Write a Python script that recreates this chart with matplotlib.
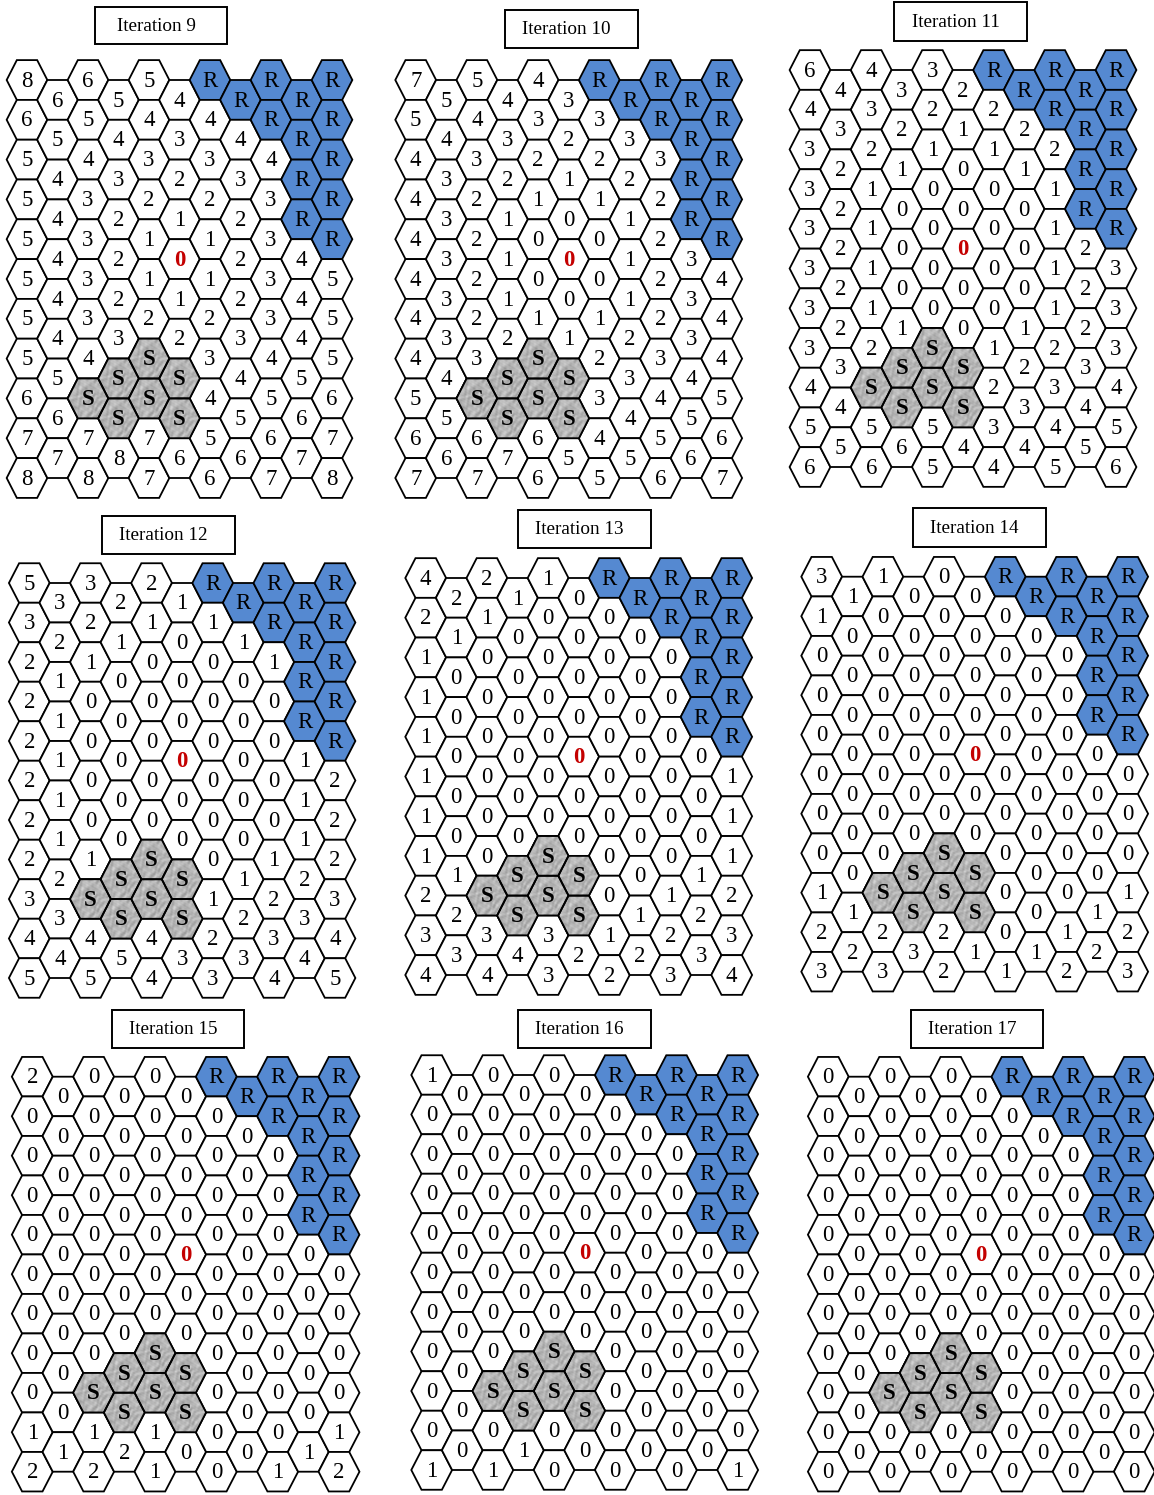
import numpy as np
import matplotlib
matplotlib.use("Agg")
import matplotlib.pyplot as plt
from matplotlib.patches import Polygon, Rectangle

plt.rcParams["font.family"] = ["Liberation Serif", "DejaVu Serif"]

W, H, DPI = 1154, 1495, 100

# Hex grids: 11 columns from left to right, each written top to bottom.
# Even columns hold 11 cells, odd columns 10 cells (shifted half a row down).
# "R" = blue R cell, "S" = grey S cell, digits = cell value.
iteration_labels = ["Iteration 9", "Iteration 10", "Iteration 11",
                    "Iteration 12", "Iteration 13", "Iteration 14",
                    "Iteration 15", "Iteration 16", "Iteration 17"]

grid_9 = ["86555555678", "6544444567", "65433334S78", "5432223SS8",
          "5432112SS77", "4321012SS6", "R4321123456", "R432223456",
          "RR433334567", "RRRR444567", "RRRRR555678"]
grid_10 = ["75444444567", "5433333456", "54322223S67", "4321112SS7",
           "4321001SS66", "3210001SS5", "R3210012345", "R321112345",
           "RR322223456", "RRRR333456", "RRRRR444567"]
grid_11 = ["64333333456", "4322222345", "43211112S56", "3210001SS6",
           "3210000SS55", "2100000SS4", "R2100001234", "R210001234",
           "RR211112345", "RRRR222345", "RRRRR333456"]
grid_12 = ["53222222345", "3211111234", "32100001S45", "2100000SS5",
           "2100000SS44", "1000000SS3", "R1000000123", "R100000123",
           "RR100001234", "RRRR111234", "RRRRR222345"]
grid_13 = ["42111111234", "2100000123", "21000000S34", "1000000SS4",
           "1000000SS33", "0000000SS2", "R0000000012", "R000000012",
           "RR000000123", "RRRR000123", "RRRRR111234"]
grid_14 = ["31000000123", "1000000012", "10000000S23", "0000000SS3",
           "0000000SS22", "0000000SS1", "R0000000001", "R000000001",
           "RR000000012", "RRRR000012", "RRRRR000123"]
grid_15 = ["20000000012", "0000000001", "00000000S12", "0000000SS2",
           "0000000SS11", "0000000SS0", "R0000000000", "R000000000",
           "RR000000001", "RRRR000001", "RRRRR000012"]
grid_16 = ["10000000001", "0000000000", "00000000S01", "0000000SS1",
           "0000000SS00", "0000000SS0", "R0000000000", "R000000000",
           "RR000000000", "RRRR000000", "RRRRR000001"]
grid_17 = ["00000000000", "0000000000", "00000000S00", "0000000SS0",
           "0000000SS00", "0000000SS0", "R0000000000", "R000000000",
           "RR000000000", "RRRR000000", "RRRRR000000"]

grids = [grid_9, grid_10, grid_11, grid_12, grid_13, grid_14,
         grid_15, grid_16, grid_17]

# Highlighted centre cell (column, row), drawn in red
center_cell = (5, 4)

# Panel placement in pixels: centre x of column 0 / column 10, centre y of row 0 / row 10
panel_px = [(27, 332, 80, 478), (415.7, 721.7, 80, 478), (810, 1116, 70, 467),
            (29.3, 335, 583, 978), (425.7, 731.7, 578, 975), (821.7, 1127.7, 576.7, 971.7),
            (32.3, 339, 1076.7, 1471.7), (431.7, 737.7, 1075, 1470), (828.3, 1134.3, 1076.7, 1471.7)]
# Title boxes in pixels: x1, x2, y1, y2
title_px = [(95, 227, 7, 44), (505, 638, 10, 48), (894, 1027, 2, 41),
            (102, 235, 516, 554), (518, 651, 510, 548), (913, 1046, 508, 547),
            (112, 244, 1010, 1048), (518, 651, 1010, 1048), (911, 1043, 1010, 1048)]

BLUE = "#5589d1"
RED = "#c40000"

# Marble-like grey texture for the S cells
gx, gy = np.meshgrid(np.linspace(0, 1, 80), np.linspace(0, 1, 80))
texture = (0.71
           + 0.05 * np.sin(23 * gx + 17 * gy + 3 * np.sin(13 * gy)) * np.cos(19 * gy - 7 * gx)
           + 0.04 * np.sin(41 * gx * gy + 11 * gx + 2 * np.cos(17 * gx))
           + 0.035 * np.cos(37 * gy + 29 * gx * gx)
           + 0.03 * np.sin(61 * gx - 47 * gy) * np.sin(53 * gy + 5 * gx))


def hex_vertices(cx, cy):
    return [(cx - 2 / 3, cy), (cx - 1 / 3, cy - 0.5), (cx + 1 / 3, cy - 0.5),
            (cx + 2 / 3, cy), (cx + 1 / 3, cy + 0.5), (cx - 1 / 3, cy + 0.5)]


fig = plt.figure(figsize=(W / DPI, H / DPI), dpi=DPI)
fig.patch.set_facecolor("white")

for label, grid, (x0, x10, y0, y10), (tx1, tx2, ty1, ty2) in zip(
        iteration_labels, grids, panel_px, title_px):
    sx = (x10 - x0) / 10
    sy = (y10 - y0) / 10
    m = 0.8
    left = x0 - m * sx
    top = y0 - m * sy
    width = (10 + 2 * m) * sx
    height = (10 + 2 * m) * sy
    ax = fig.add_axes([left / W, 1 - (top + height) / H, width / W, height / H])
    ax.set_xlim(-m, 10 + m)
    ax.set_ylim(10 + m, -m)
    ax.axis("off")

    for c, column in enumerate(grid):
        for r, val in enumerate(column):
            cx = c
            cy = r + 0.5 * (c % 2)
            face = BLUE if val == "R" else "white"
            poly = Polygon(hex_vertices(cx, cy), closed=True, facecolor=face,
                           edgecolor="black", linewidth=1.3, zorder=2,
                           clip_on=False)
            ax.add_patch(poly)
            if val == "S":
                im = ax.imshow(texture, cmap="gray", vmin=0, vmax=1,
                               extent=(cx - 0.7, cx + 0.7, cy + 0.55, cy - 0.55),
                               interpolation="bilinear", zorder=2.5, aspect="auto")
                im.set_clip_path(poly)
                edge = Polygon(hex_vertices(cx, cy), closed=True, facecolor="none",
                               edgecolor="black", linewidth=1.3, zorder=3,
                               clip_on=False)
                ax.add_patch(edge)
                ax.text(cx, cy + 0.03, "S", ha="center", va="center",
                        fontsize=16.5, fontweight="bold", color="black", zorder=4)
            elif (c, r) == center_cell:
                ax.text(cx, cy + 0.03, val, ha="center", va="center",
                        fontsize=16.5, fontweight="bold", color=RED, zorder=4)
            else:
                ax.text(cx, cy + 0.03, val, ha="center", va="center",
                        fontsize=16.5, color="black", zorder=4)

    fig.add_artist(Rectangle((tx1 / W, 1 - ty2 / H), (tx2 - tx1) / W, (ty2 - ty1) / H,
                             transform=fig.transFigure, facecolor="white",
                             edgecolor="black", linewidth=1.4))
    fig.text(((tx1 + tx2) / 2 - 5) / W, 1 - ((ty1 + ty2) / 2 + 1) / H, label,
             ha="center", va="center", fontsize=13.8, color="black")

fig.savefig("out.png", dpi=DPI, facecolor="white")
